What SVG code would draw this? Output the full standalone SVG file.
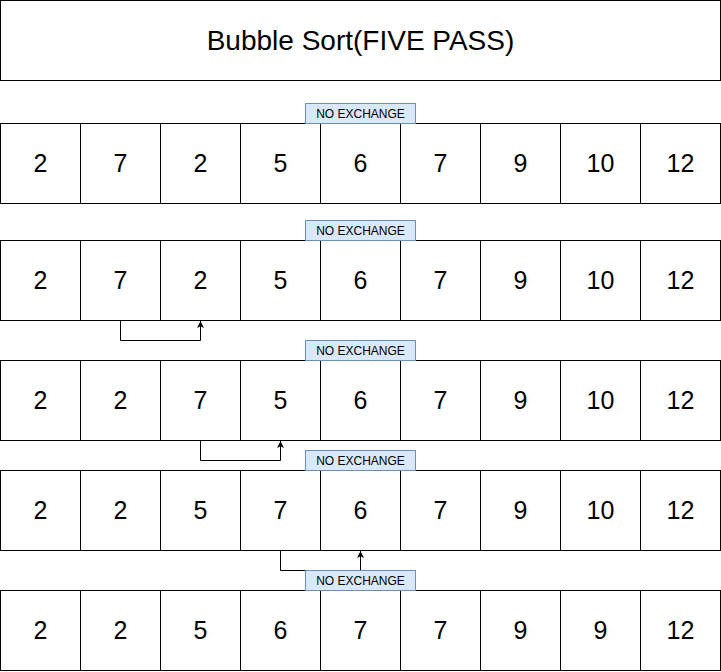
<svg xmlns="http://www.w3.org/2000/svg" width="721" height="672" viewBox="0 0 721 672">
<style>
.c{fill:#fff;stroke:#000;stroke-width:1}
.t{font-family:"Liberation Sans",Arial,sans-serif;font-size:25px;text-anchor:middle;dominant-baseline:central;fill:#000}
.h{font-family:"Liberation Sans",Arial,sans-serif;font-size:28px;text-anchor:middle;dominant-baseline:central;fill:#000}
.l{fill:#dae8fc;stroke:#6c8ebf;stroke-width:1}
.lt{font-family:"Liberation Sans",Arial,sans-serif;font-size:12px;text-anchor:middle;dominant-baseline:central;fill:#000}
.e{fill:none;stroke:#000;stroke-width:1}
</style>
<defs>
<marker id="a" viewBox="0 0 10 10" refX="10" refY="5" markerWidth="7" markerHeight="7" markerUnits="userSpaceOnUse" orient="auto"><path d="M0,0 L10,5 L0,10 L2.5,5 z" fill="#000"/></marker>
</defs>
<rect width="721" height="672" fill="#fff"/>
<g id="title"><rect class="c" x="0.5" y="0.5" width="720" height="80"/><text class="h" x="360.5" y="40">Bubble Sort(FIVE PASS)</text></g>
<g id="connectors">
<path class="e" d="M120.5,320.5 V340.5 H200.5 V321" marker-end="url(#a)"/>
<path class="e" d="M200.5,440.5 V460.5 H280.5 V441" marker-end="url(#a)"/>
<path class="e" d="M280.5,550.5 V570.5 H360.5 V551" marker-end="url(#a)"/>
</g>
<g id="row1">
<rect class="c" x="0.5" y="123.5" width="80" height="80"/><text class="t" x="40.5" y="163">2</text>
<rect class="c" x="80.5" y="123.5" width="80" height="80"/><text class="t" x="120.5" y="163">7</text>
<rect class="c" x="160.5" y="123.5" width="80" height="80"/><text class="t" x="200.5" y="163">2</text>
<rect class="c" x="240.5" y="123.5" width="80" height="80"/><text class="t" x="280.5" y="163">5</text>
<rect class="c" x="320.5" y="123.5" width="80" height="80"/><text class="t" x="360.5" y="163">6</text>
<rect class="c" x="400.5" y="123.5" width="80" height="80"/><text class="t" x="440.5" y="163">7</text>
<rect class="c" x="480.5" y="123.5" width="80" height="80"/><text class="t" x="520.5" y="163">9</text>
<rect class="c" x="560.5" y="123.5" width="80" height="80"/><text class="t" x="600.5" y="163">10</text>
<rect class="c" x="640.5" y="123.5" width="80" height="80"/><text class="t" x="680.5" y="163">12</text>
</g>
<g id="row2">
<rect class="c" x="0.5" y="240.5" width="80" height="80"/><text class="t" x="40.5" y="280">2</text>
<rect class="c" x="80.5" y="240.5" width="80" height="80"/><text class="t" x="120.5" y="280">7</text>
<rect class="c" x="160.5" y="240.5" width="80" height="80"/><text class="t" x="200.5" y="280">2</text>
<rect class="c" x="240.5" y="240.5" width="80" height="80"/><text class="t" x="280.5" y="280">5</text>
<rect class="c" x="320.5" y="240.5" width="80" height="80"/><text class="t" x="360.5" y="280">6</text>
<rect class="c" x="400.5" y="240.5" width="80" height="80"/><text class="t" x="440.5" y="280">7</text>
<rect class="c" x="480.5" y="240.5" width="80" height="80"/><text class="t" x="520.5" y="280">9</text>
<rect class="c" x="560.5" y="240.5" width="80" height="80"/><text class="t" x="600.5" y="280">10</text>
<rect class="c" x="640.5" y="240.5" width="80" height="80"/><text class="t" x="680.5" y="280">12</text>
</g>
<g id="row3">
<rect class="c" x="0.5" y="360.5" width="80" height="80"/><text class="t" x="40.5" y="400">2</text>
<rect class="c" x="80.5" y="360.5" width="80" height="80"/><text class="t" x="120.5" y="400">2</text>
<rect class="c" x="160.5" y="360.5" width="80" height="80"/><text class="t" x="200.5" y="400">7</text>
<rect class="c" x="240.5" y="360.5" width="80" height="80"/><text class="t" x="280.5" y="400">5</text>
<rect class="c" x="320.5" y="360.5" width="80" height="80"/><text class="t" x="360.5" y="400">6</text>
<rect class="c" x="400.5" y="360.5" width="80" height="80"/><text class="t" x="440.5" y="400">7</text>
<rect class="c" x="480.5" y="360.5" width="80" height="80"/><text class="t" x="520.5" y="400">9</text>
<rect class="c" x="560.5" y="360.5" width="80" height="80"/><text class="t" x="600.5" y="400">10</text>
<rect class="c" x="640.5" y="360.5" width="80" height="80"/><text class="t" x="680.5" y="400">12</text>
</g>
<g id="row4">
<rect class="c" x="0.5" y="470.5" width="80" height="80"/><text class="t" x="40.5" y="510">2</text>
<rect class="c" x="80.5" y="470.5" width="80" height="80"/><text class="t" x="120.5" y="510">2</text>
<rect class="c" x="160.5" y="470.5" width="80" height="80"/><text class="t" x="200.5" y="510">5</text>
<rect class="c" x="240.5" y="470.5" width="80" height="80"/><text class="t" x="280.5" y="510">7</text>
<rect class="c" x="320.5" y="470.5" width="80" height="80"/><text class="t" x="360.5" y="510">6</text>
<rect class="c" x="400.5" y="470.5" width="80" height="80"/><text class="t" x="440.5" y="510">7</text>
<rect class="c" x="480.5" y="470.5" width="80" height="80"/><text class="t" x="520.5" y="510">9</text>
<rect class="c" x="560.5" y="470.5" width="80" height="80"/><text class="t" x="600.5" y="510">10</text>
<rect class="c" x="640.5" y="470.5" width="80" height="80"/><text class="t" x="680.5" y="510">12</text>
</g>
<g id="row5">
<rect class="c" x="0.5" y="590.5" width="80" height="80"/><text class="t" x="40.5" y="630">2</text>
<rect class="c" x="80.5" y="590.5" width="80" height="80"/><text class="t" x="120.5" y="630">2</text>
<rect class="c" x="160.5" y="590.5" width="80" height="80"/><text class="t" x="200.5" y="630">5</text>
<rect class="c" x="240.5" y="590.5" width="80" height="80"/><text class="t" x="280.5" y="630">6</text>
<rect class="c" x="320.5" y="590.5" width="80" height="80"/><text class="t" x="360.5" y="630">7</text>
<rect class="c" x="400.5" y="590.5" width="80" height="80"/><text class="t" x="440.5" y="630">7</text>
<rect class="c" x="480.5" y="590.5" width="80" height="80"/><text class="t" x="520.5" y="630">9</text>
<rect class="c" x="560.5" y="590.5" width="80" height="80"/><text class="t" x="600.5" y="630">9</text>
<rect class="c" x="640.5" y="590.5" width="80" height="80"/><text class="t" x="680.5" y="630">12</text>
</g>
<g id="label1"><rect class="l" x="305.5" y="103.5" width="110" height="20"/><text class="lt" x="360.5" y="113.5">NO EXCHANGE</text></g>
<g id="label2"><rect class="l" x="305.5" y="220.5" width="110" height="20"/><text class="lt" x="360.5" y="230.5">NO EXCHANGE</text></g>
<g id="label3"><rect class="l" x="305.5" y="340.5" width="110" height="20"/><text class="lt" x="360.5" y="350.5">NO EXCHANGE</text></g>
<g id="label4"><rect class="l" x="305.5" y="450.5" width="110" height="20"/><text class="lt" x="360.5" y="460.5">NO EXCHANGE</text></g>
<g id="label5"><rect class="l" x="305.5" y="570.5" width="110" height="20"/><text class="lt" x="360.5" y="580.5">NO EXCHANGE</text></g>
</svg>
